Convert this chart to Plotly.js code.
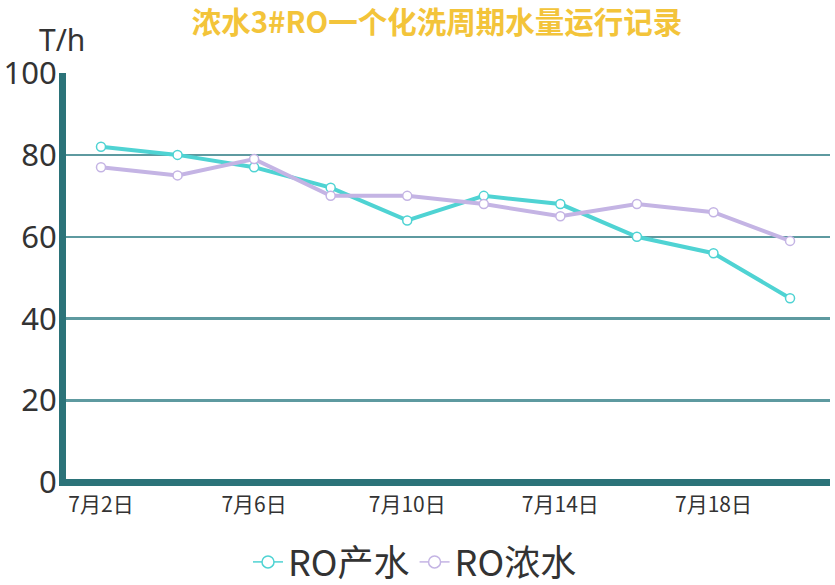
<!DOCTYPE html>
<html>
<head>
<meta charset="utf-8">
<script src="https://cdn.plot.ly/plotly-3.0.1.min.js"></script>
<style>html,body{margin:0;padding:0;background:#fff;}#chart{width:835px;height:585px;}</style>
</head>
<body>
<div id="chart"></div>
<script>
const categories = ['7月2日','7月4日','7月6日','7月8日','7月10日','7月12日','7月14日','7月16日','7月18日','7月20日'];
const roProduct = [82, 80, 77, 72, 64, 70, 68, 60, 56, 45];
const roConcentrate = [77, 75, 79, 70, 70, 68, 65, 68, 66, 59];
const seriesNames = ['RO产水', 'RO浓水'];
const seriesColors = ['#4fd3d3', '#c4b4e4'];
const titleText = '浓水3#RO一个化洗周期水量运行记录';
const yUnit = 'T/h';
const yTicks = [0, 20, 40, 60, 80, 100];

const font = '"Noto Sans CJK SC", "Noto Sans", sans-serif';
const tickCats = categories.filter((_, i) => i % 2 === 0);
const seriesData = [roProduct, roConcentrate];

const traces = [];
seriesData.forEach((ys, k) => {
  traces.push({x: categories, y: ys, name: seriesNames[k], type: 'scatter', mode: 'lines+markers',
    showlegend: false,
    line: {color: seriesColors[k], width: 4},
    marker: {symbol: 'circle', size: 9, color: '#ffffff', line: {color: seriesColors[k], width: 1.5}}});
});
// legend entries (thin line + hollow circle, as in the reference legend)
seriesData.forEach((ys, k) => {
  traces.push({x: [categories[0]], y: [null], name: seriesNames[k], type: 'scatter', mode: 'lines+markers',
    showlegend: true, hoverinfo: 'skip',
    line: {color: seriesColors[k], width: 1.5},
    marker: {symbol: 'circle', size: 12, color: '#ffffff', line: {color: seriesColors[k], width: 1.5}}});
});

const layout = {
  width: 835, height: 585,
  margin: {l: 66, r: 5, t: 73, b: 98.5, autoexpand: false},
  paper_bgcolor: '#ffffff', plot_bgcolor: '#ffffff',
  font: {family: font, color: '#333333'},
  title: {text: '<b>' + titleText + '</b>', font: {family: font, size: 29.5, color: '#f3c43a'},
          x: 437 / 835, xanchor: 'center', xref: 'container', y: 1 - 23 / 585, yanchor: 'middle', yref: 'container'},
  xaxis: {type: 'category', range: [-0.457, 9.522], tickmode: 'array', tickvals: tickCats, ticktext: tickCats,
          showgrid: false, zeroline: false, showline: false,
          ticks: '', ticklabelstandoff: 4, tickfont: {family: font, size: 21, color: '#333333'}, fixedrange: true},
  yaxis: {range: [-0.854, 100], tickmode: 'array', tickvals: yTicks,
          showgrid: true, gridcolor: '#5e9aa0', gridwidth: 2.5,
          zeroline: true, zerolinecolor: '#2b7379', zerolinewidth: 7,
          showline: true, linecolor: '#2b7379', linewidth: 7, ticks: '',
          ticklabelstandoff: -4,
          tickfont: {family: '"Noto Sans", sans-serif', size: 31, color: '#333333'}},
  showlegend: true,
  legend: {orientation: 'h', x: 415 / 835, xanchor: 'center', xref: 'container', y: (585 - 562) / 585, yanchor: 'middle', yref: 'container',
           font: {family: font, size: 36, color: '#333333'}, itemwidth: 30, tracegroupgap: 0},
  annotations: [{text: yUnit, xref: 'paper', yref: 'paper', x: -4 / 764, y: 1.0, xanchor: 'center', yanchor: 'bottom',
                 yshift: 11, showarrow: false, font: {family: '"Noto Sans", sans-serif', size: 30, color: '#333333'}}]
};

Plotly.newPlot('chart', traces, layout, {displayModeBar: false, staticPlot: true});
</script>
</body>
</html>
